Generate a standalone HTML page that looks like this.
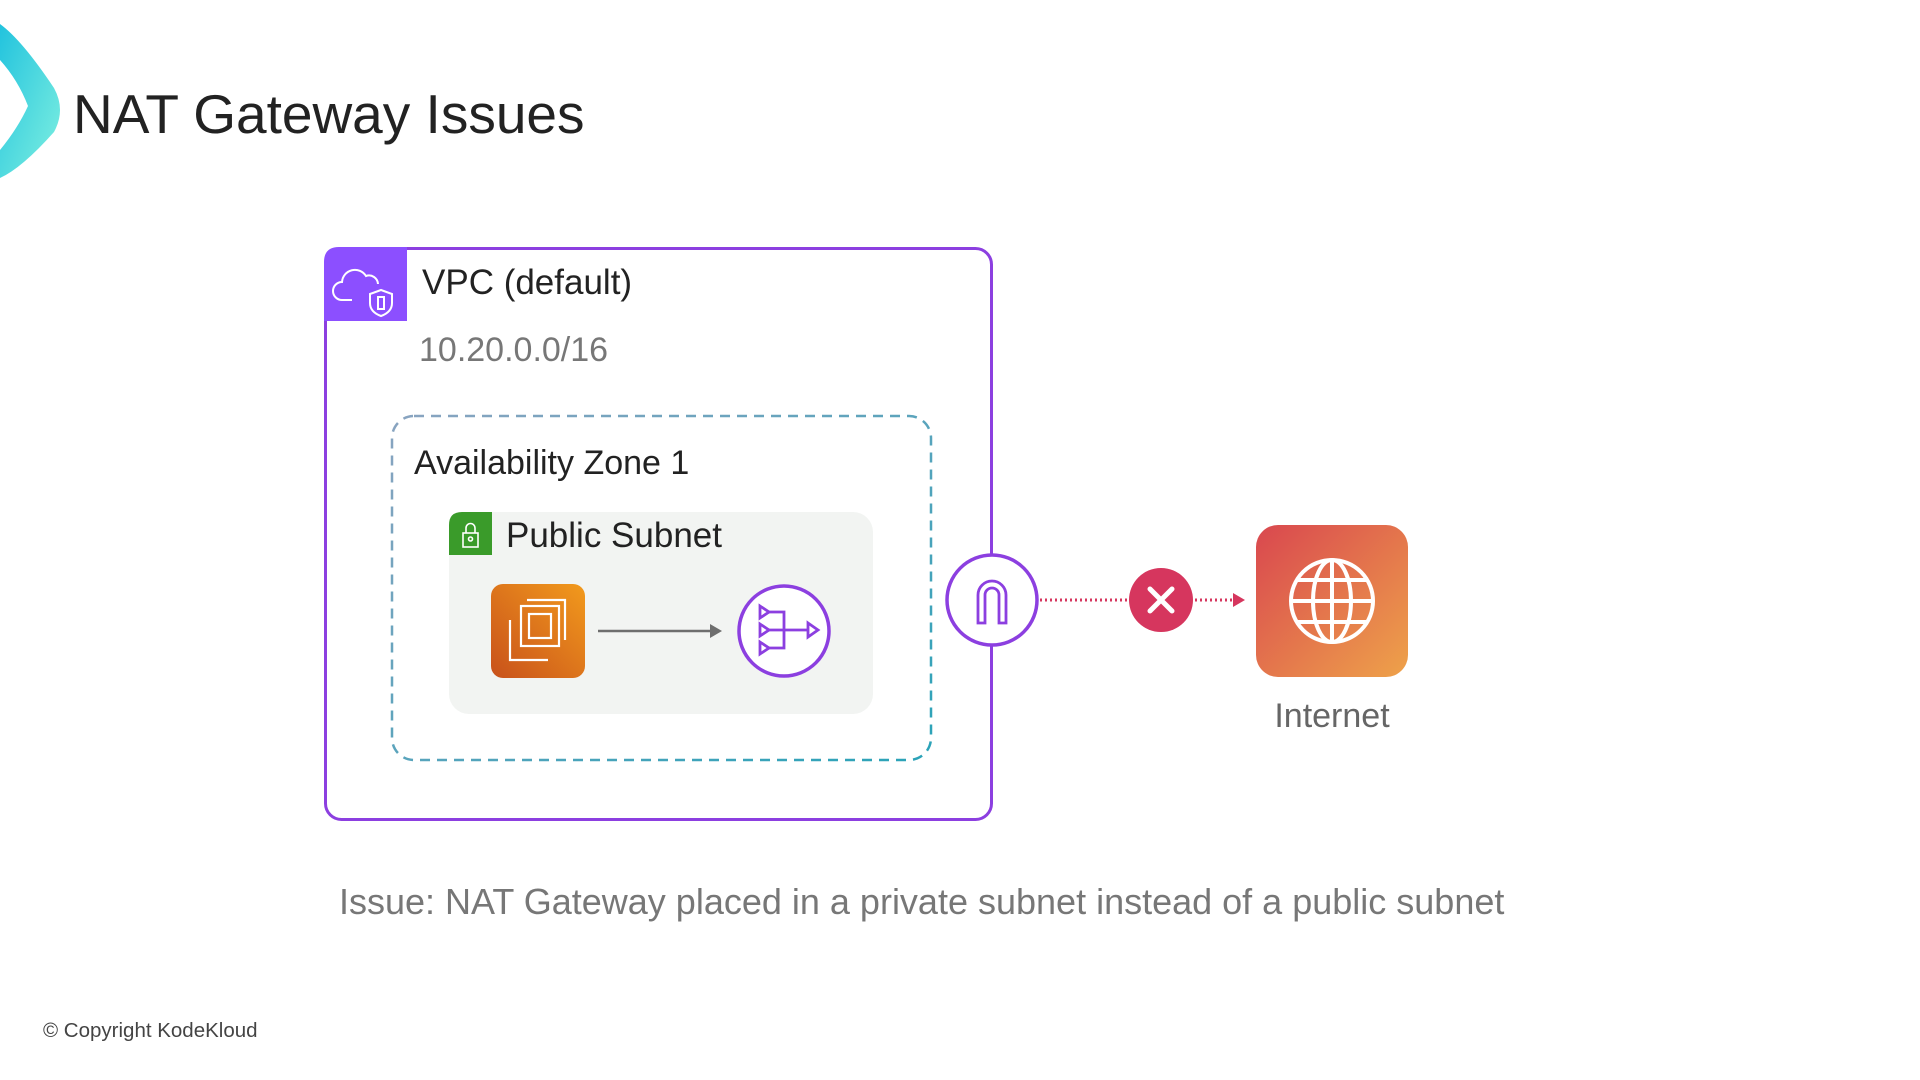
<!DOCTYPE html>
<html><head><meta charset="utf-8"><style>
body{margin:0;width:1920px;height:1080px;background:#fff;position:relative;overflow:hidden;font-family:"Liberation Sans",sans-serif;}
.t{position:absolute;white-space:nowrap;line-height:1;}
</style></head><body>
<svg width="1920" height="1080" style="position:absolute;left:0;top:0">
<defs>
<linearGradient id="chev" x1="0" y1="0" x2="1" y2="1"><stop offset="0" stop-color="#22c3de"/><stop offset="1" stop-color="#7ff0e0"/></linearGradient>
<linearGradient id="ec2" x1="0" y1="1" x2="1" y2="0"><stop offset="0" stop-color="#c8511b"/><stop offset="1" stop-color="#f29a1c"/></linearGradient>
<linearGradient id="inet" x1="0" y1="0" x2="1" y2="1"><stop offset="0" stop-color="#d9474f"/><stop offset="1" stop-color="#eea24a"/></linearGradient>
<linearGradient id="az" x1="0" y1="0" x2="1" y2="1"><stop offset="0" stop-color="#8aa4c0"/><stop offset="1" stop-color="#2aa3b8"/></linearGradient>
</defs>
<path d="M0,24 Q22,40 54,88 Q66,110 54,132 Q22,168 0,178 L0,150 Q18,128 28,106 Q18,80 0,60Z" fill="url(#chev)"/>
<rect x="325.5" y="248.5" width="666" height="571" rx="16" fill="none" stroke="#8c3fe0" stroke-width="3"/>
<path d="M324,262 Q324,247 339,247 L407,247 L407,321 L324,321Z" fill="#8c4fff"/>
<g fill="none" stroke="#fff" stroke-width="2">
<path d="M352,300 h-10 a9,9 0 0 1 0,-18 a13,13 0 0 1 24,-6 a9,9 0 0 1 12,8"/>
<path d="M381,290 l11,4 v9 q0,9 -11,13 q-11,-4 -11,-13 v-9z"/>
<path d="M378,297 h6 v12 h-6z"/>
</g>
<rect x="392" y="416" width="539" height="344" rx="22" fill="none" stroke="url(#az)" stroke-width="2.5" stroke-dasharray="10 7"/>
<rect x="449" y="512" width="424" height="202" rx="20" fill="#f2f4f2"/>
<path d="M449,555 V525 Q449,512 462,512 H492 V555Z" fill="#3a9b2a"/>
<g fill="none" stroke="#fff" stroke-width="1.6"><rect x="463" y="533" width="15" height="14"/><path d="M466,533 v-5 a4.5,4.5 0 0 1 9,0 v5"/><circle cx="470.5" cy="539" r="2"/></g>
<rect x="491" y="584" width="94" height="94" rx="12" fill="url(#ec2)"/>
<g fill="none" stroke="#fff" stroke-width="2.2">
<rect x="521" y="606" width="38" height="40"/>
<path d="M527,600 h38 v40 M510,620 v40 h38"/>
<rect x="529" y="614" width="22" height="24"/>
</g>
<line x1="598" y1="631" x2="712" y2="631" stroke="#6e6e6e" stroke-width="2.5"/>
<path d="M722,631 L710,624 L710,638Z" fill="#6e6e6e"/>
<circle cx="784" cy="631" r="45" fill="#fff" stroke="#8c3fe0" stroke-width="3.5"/>
<g fill="none" stroke="#8c3fe0" stroke-width="2.8">
<path d="M760,606 l9,6 l-9,6z M760,624 l9,6 l-9,6z M760,642 l9,6 l-9,6z"/>
<path d="M769,612 h15 v36 h-15 M769,630 h40"/><path d="M808,623 l10,7 l-10,7z"/>
</g>
<circle cx="992" cy="600" r="45" fill="#fff" stroke="#8c3fe0" stroke-width="3.5"/>
<path d="M978,623 V595 a14,14 0 0 1 28,0 V623 h-7 V595 a7,7 0 0 0 -14,0 V623z" fill="none" stroke="#8c3fe0" stroke-width="2.8"/>
<line x1="1040" y1="600" x2="1129" y2="600" stroke="#d6365e" stroke-width="3" stroke-dasharray="2 3"/>
<line x1="1195" y1="600" x2="1234" y2="600" stroke="#d6365e" stroke-width="3" stroke-dasharray="2 3"/>
<path d="M1245,600 L1233,593 L1233,607Z" fill="#d6365e"/>
<circle cx="1161" cy="600" r="32" fill="#d6365e"/>
<path d="M1150,589 L1172,611 M1172,589 L1150,611" stroke="#fff" stroke-width="5" stroke-linecap="round"/>
<rect x="1256" y="525" width="152" height="152" rx="22" fill="url(#inet)"/>
<g fill="none" stroke="#fff" stroke-width="4">
<circle cx="1332" cy="601" r="41"/><ellipse cx="1332" cy="601" rx="19" ry="41"/>
<line x1="1332" y1="560" x2="1332" y2="642"/><line x1="1291" y1="601" x2="1373" y2="601"/>
<line x1="1297" y1="580" x2="1367" y2="580"/><line x1="1297" y1="622" x2="1367" y2="622"/>
</g>
</svg>
<div class="t" style="left:73px;top:87px;font-size:55px;color:#222">NAT Gateway Issues</div>
<div class="t" style="left:422px;top:265px;font-size:35px;color:#222">VPC (default)</div>
<div class="t" style="left:419px;top:333px;font-size:34px;color:#777">10.20.0.0/16</div>
<div class="t" style="left:414px;top:446px;font-size:34px;color:#222">Availability Zone 1</div>
<div class="t" style="left:506px;top:518px;font-size:35px;color:#222">Public Subnet</div>
<div class="t" style="left:1232px;width:200px;text-align:center;top:699px;font-size:34px;color:#666">Internet</div>
<div class="t" style="left:339px;top:884px;font-size:36px;color:#777">Issue: NAT Gateway placed in a private subnet instead of a public subnet</div>
<div class="t" style="left:43px;top:1021px;font-size:20.5px;color:#444">© Copyright KodeKloud</div>
</body></html>
